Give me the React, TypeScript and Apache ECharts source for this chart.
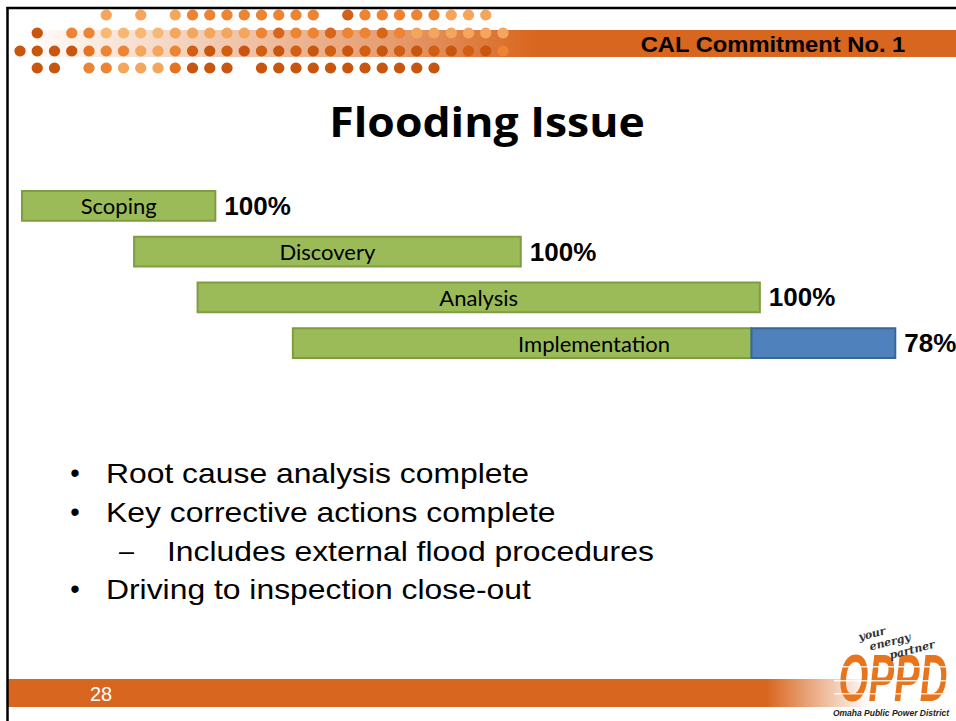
import React, { useEffect, useRef } from "react";
import * as echarts from "echarts";

// ---------- data ----------
const categories = ["Scoping", "Discovery", "Analysis", "Implementation"];
const startValues = [0, 12.0, 18.8, 29.0];
const completedValues = [20.7, 53.4, 79.0, 78.1];
const endValues = [20.7, 53.4, 79.0, 93.5];
const percentComplete = [100, 100, 100, 78];

const slideTitle = "Flooding Issue";
const headerText = "CAL Commitment No. 1";
const bulletItems = [
  { level: 0, text: "Root cause analysis complete" },
  { level: 0, text: "Key corrective actions complete" },
  { level: 1, text: "Includes external flood procedures" },
  { level: 0, text: "Driving to inspection close-out" },
];
const pageNumber = "28";

// decorative dot rows (column indices present in each row)
const dotRow1 = [5, 7, 9, 10, 11, 12, 13, 14, 15, 16, 17, 19, 20, 21, 22, 23, 24, 25, 26, 27];
const dotRow2 = [1, 3, 4, 5, 6, 7, 8, 9, 10, 11, 12, 13, 14, 15, 16, 17, 18, 19, 20, 21, 22, 23, 24, 25, 26, 27, 28];
const dotRow3 = [0, 1, 2, 3, 4, 5, 6, 7, 8, 9, 10, 11, 12, 13, 14, 15, 16, 17, 18, 19, 20, 21, 22, 23, 24, 25, 26, 27, 28];
const dotRow4 = [1, 2, 4, 5, 6, 7, 8, 9, 10, 11, 12, 14, 15, 16, 17, 18, 19, 20, 21, 22, 23, 24];

const DARK = "#C9560F";
const MID = "#E5731F";
const ORANGE = "#EC8434";
const LIGHT = "#F4A65C";
const PALE = "#F6B873";

function dotColor(row: number, i: number): string {
  if (row === 0) {
    if (i === 19) return "#D0601A";
    if (i >= 25) return LIGHT;
    if (i <= 9) return LIGHT;
    return ORANGE;
  }
  if (row === 1) {
    if (i === 1) return DARK;
    if (i <= 4) return ORANGE;
    if (i <= 8) return PALE;
    if (i <= 13) return LIGHT;
    if (i <= 22) return i % 3 === 0 ? "#D8651A" : ORANGE;
    return LIGHT;
  }
  if (row === 2) {
    if (i <= 3) return DARK;
    if (i === 4) return MID;
    if (i <= 6) return ORANGE;
    if (i <= 8) return LIGHT;
    if (i === 9) return ORANGE;
    if (i === 28) return ORANGE;
    return i % 2 === 0 ? "#D25E14" : DARK;
  }
  if (i <= 2) return DARK;
  if (i <= 5) return ORANGE;
  if (i <= 8) return LIGHT;
  if (i === 9) return MID;
  return DARK;
}

const FONT_BODY = '"Liberation Sans", Arial, sans-serif';

function stretchedText(
  text: string,
  x: number,
  y: number,
  font: string,
  scaleX: number,
  align: string,
  fill = "#000",
  z = 3
) {
  return {
    type: "text",
    z,
    x,
    y,
    scaleX,
    style: { text, x: 0, y: 0, align, verticalAlign: "middle", font, fill },
  };
}

export default function App() {
  const ref = useRef<HTMLDivElement>(null);

  useEffect(() => {
    if (!ref.current) return;
    const chart = echarts.init(ref.current, undefined, { renderer: "svg" });

    const graphics: any[] = [];

    // header band (fading in from the left)
    graphics.push({
      type: "rect",
      z: 1,
      shape: { x: 20, y: 30, width: 936, height: 27 },
      style: {
        fill: new echarts.graphic.LinearGradient(0, 0, 1, 0, [
          { offset: 0, color: "rgba(216,102,31,0)" },
          { offset: 0.15, color: "rgba(216,102,31,0.25)" },
          { offset: 0.4, color: "rgba(216,102,31,0.65)" },
          { offset: 0.55, color: "rgba(216,102,31,1)" },
          { offset: 1, color: "rgba(216,102,31,1)" },
        ]),
      },
    });

    const rows = [dotRow1, dotRow2, dotRow3, dotRow4];
    const rowY = [15, 33, 51, 68];
    rows.forEach((row, r) => {
      row.forEach((i) => {
        graphics.push({
          type: "circle",
          z: 2,
          shape: { cx: 20 + i * 17.25, cy: rowY[r], r: 5.6 },
          style: { fill: dotColor(r, i) },
        });
      });
    });

    graphics.push(stretchedText(headerText, 773, 44, `bold 22px ${FONT_BODY}`, 1.08, "center"));

    // border lines
    graphics.push({
      type: "line",
      z: 5,
      shape: { x1: 6.5, y1: 8, x2: 956, y2: 8 },
      style: { stroke: "#000", lineWidth: 2.5 },
    });
    graphics.push({
      type: "line",
      z: 5,
      shape: { x1: 7.5, y1: 7, x2: 7.5, y2: 721 },
      style: { stroke: "#000", lineWidth: 2.5 },
    });

    // title
    graphics.push(stretchedText(slideTitle, 487, 121, 'bold 42px "Open Sans", sans-serif', 1.06, "center"));

    // bullets
    const bulletY = [473, 512, 551, 589];
    const bulletFont = `27px ${FONT_BODY}`;
    bulletItems.forEach((b, k) => {
      if (b.level === 0) {
        graphics.push(stretchedText("•", 75, bulletY[k], bulletFont, 1, "center"));
        graphics.push(stretchedText(b.text, 106, bulletY[k], bulletFont, 1.18, "left"));
      } else {
        graphics.push(stretchedText("–", 119, bulletY[k], bulletFont, 1, "left"));
        graphics.push(stretchedText(b.text, 167, bulletY[k], bulletFont, 1.18, "left"));
      }
    });

    // bottom band
    graphics.push({
      type: "rect",
      z: 1,
      shape: { x: 8, y: 679, width: 862, height: 28 },
      style: {
        fill: new echarts.graphic.LinearGradient(0, 0, 1, 0, [
          { offset: 0, color: "rgba(217,102,31,1)" },
          { offset: 0.88, color: "rgba(217,102,31,1)" },
          { offset: 1, color: "rgba(217,102,31,0)" },
        ]),
      },
    });
    graphics.push(stretchedText(pageNumber, 90, 694, `20px ${FONT_BODY}`, 1, "left", "#fff"));

    // logo
    graphics.push({
      type: "text",
      z: 4,
      x: 893,
      y: 678,
      scaleX: 0.6,
      scaleY: 1.05,
      style: {
        text: "OPPD",
        x: 0,
        y: 0,
        align: "center",
        verticalAlign: "middle",
        font: `italic bold 64px ${FONT_BODY}`,
        fill: "#E8741C",
      },
    });
    [666, 680, 693].forEach((yy) => {
      graphics.push({
        type: "rect",
        z: 5,
        shape: { x: 834, y: yy, width: 118, height: 1.5 },
        style: { fill: "rgba(255,255,255,0.85)" },
      });
    });
    graphics.push({
      type: "text",
      z: 4,
      style: {
        text: "Omaha Public Power District",
        x: 891,
        y: 713,
        align: "center",
        verticalAlign: "middle",
        font: `italic bold 8.5px ${FONT_BODY}`,
        fill: "#222",
      },
    });
    [
      { t: "your", x: 872, y: 634 },
      { t: "energy", x: 890, y: 642 },
      { t: "partner", x: 912, y: 650 },
    ].forEach((w) => {
      graphics.push({
        type: "text",
        z: 4,
        x: w.x,
        y: w.y,
        rotation: 0.25,
        style: {
          text: w.t,
          x: 0,
          y: 0,
          align: "center",
          verticalAlign: "middle",
          font: 'italic bold 11px "DejaVu Serif", serif',
          fill: "#333",
        },
      });
    });

    chart.setOption({
      animation: false,
      backgroundColor: "#ffffff",
      grid: { left: 22, right: 0, top: 183, height: 183 },
      xAxis: { type: "value", min: 0, max: 100, show: false },
      yAxis: { type: "category", data: categories, inverse: true, show: false },
      graphic: { elements: graphics },
      series: [
        {
          type: "custom",
          clip: false,
          encode: { x: [1, 2, 3], y: 0 },
          data: categories.map((c, i) => [
            i,
            startValues[i],
            completedValues[i],
            endValues[i],
            percentComplete[i],
          ]),
          renderItem: (params: any, api: any) => {
            const idx = api.value(0);
            const s = api.coord([api.value(1), idx]);
            const m = api.coord([api.value(2), idx]);
            const e = api.coord([api.value(3), idx]);
            const bandH = api.size([0, 1])[1];
            const h = bandH * 0.65;
            const y = s[1] - h / 2;
            const children: any[] = [
              {
                type: "rect",
                shape: { x: s[0], y, width: m[0] - s[0], height: h },
                style: { fill: "#9BBB59", stroke: "#7E9D40", lineWidth: 2 },
              },
            ];
            if (e[0] > m[0] + 0.5) {
              children.push({
                type: "rect",
                shape: { x: m[0], y, width: e[0] - m[0], height: h },
                style: { fill: "#4F81BD", stroke: "#3A6696", lineWidth: 2 },
              });
            }
            children.push({
              type: "text",
              style: {
                text: categories[params.dataIndex],
                x: (s[0] + e[0]) / 2,
                y: s[1],
                align: "center",
                verticalAlign: "middle",
                font: "22px Lato, sans-serif",
                fill: "#000",
              },
            });
            children.push({
              type: "text",
              style: {
                text: api.value(4) + "%",
                x: e[0] + 9,
                y: s[1],
                align: "left",
                verticalAlign: "middle",
                font: `bold 26px ${FONT_BODY}`,
                fill: "#000",
              },
            });
            return { type: "group", children };
          },
        },
      ],
    });

    return () => chart.dispose();
  }, []);

  return (
    <div
      ref={ref}
      style={{ position: "absolute", left: 0, top: 0, width: 956, height: 721, background: "#fff" }}
    />
  );
}
